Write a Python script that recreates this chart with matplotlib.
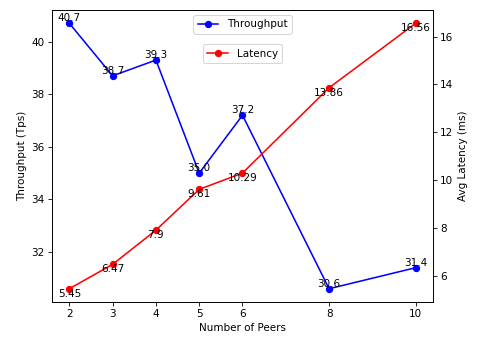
import matplotlib
matplotlib.use("Agg")
import matplotlib.pyplot as plt

peers = [2, 3, 4, 5, 6, 8, 10]
throughput = [40.7, 38.7, 39.3, 35.0, 37.2, 30.6, 31.4]
latency = [5.45, 6.47, 7.9, 9.61, 10.29, 13.86, 16.56]

fig = plt.figure(figsize=(6.4, 341 / 75), dpi=75)
ax1 = fig.add_axes([52 / 480, 39 / 341, 381 / 480, 292 / 341])
ax1.plot(peers, throughput, 'b-o', label='Throughput')
for x, y in zip(peers, throughput):
    ax1.text(x, y, f'{y}', ha='center', va='bottom')
ax1.set_xlabel('Number of Peers')
ax1.set_ylabel('Throughput (Tps)')
ax1.set_xticks(peers)
ax1.legend(loc='upper center')

ax2 = ax1.twinx()
ax2.plot(peers, latency, 'r-o', label='Latency')
for x, y in zip(peers, latency):
    ax2.text(x, y, f'{y}', ha='center', va='top')
ax2.set_ylabel('Avg Latency (ms)')
ax2.legend(loc='upper center', bbox_to_anchor=(0.5, 0.9))

fig.savefig('out.png', dpi=75)
